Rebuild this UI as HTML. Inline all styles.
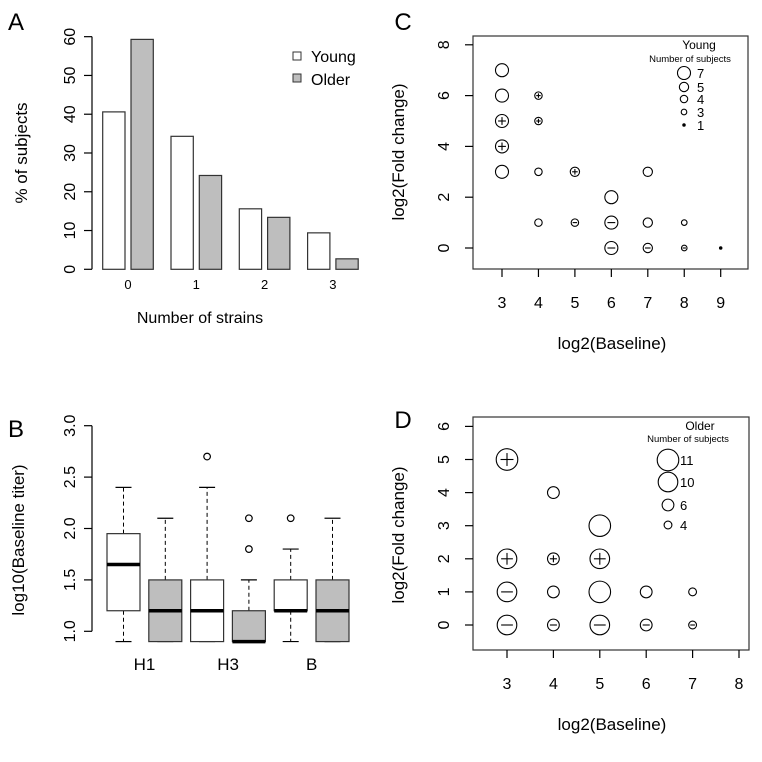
<!DOCTYPE html>
<html><head><meta charset="utf-8"><style>
html,body{margin:0;padding:0;background:#fff}
svg{display:block;font-family:"Liberation Sans",Arial,sans-serif}
</style></head><body>
<svg id="s" width="762" height="762" viewBox="0 0 762 762"></svg>
<script>
// Panel A data
const aCats=["0","1","2","3"];
const aYoung=[40.6,34.3,15.6,9.4];
const aOlder=[59.3,24.2,13.4,2.7];
const aTicks=[0,10,20,30,40,50,60];
// Panel B data
const bGroups=["H1","H3","B"];
const bStats=[[0.9,1.2,1.65,1.95,2.4],[0.9,0.9,1.2,1.5,2.1],[0.9,0.9,1.2,1.5,2.4],[0.9,0.9,0.9,1.2,1.5],[0.9,1.2,1.2,1.5,1.8],[0.9,0.9,1.2,1.5,2.1]];
const bOutliers=[[],[],[2.7],[1.8,2.1],[2.1],[]];
const bTicks=[1.0,1.5,2.0,2.5,3.0];
// Panel C data
const cX=[3,3,3,3,3,4,4,4,4,5,5,6,6,6,7,7,7,8,8,9];
const cY=[7,6,5,4,3,6,5,3,1,3,1,2,1,0,3,1,0,1,0,0];
const cN=[7,7,7,7,7,4,4,4,4,5,4,7,7,7,5,5,5,3,3,1];
const cS=["","","p","p","","p","p","","","p","m","","m","m","","","m","","m",""];
const cLegN=[7,5,4,3,1];
// Panel D data
const dX=[3,3,3,3,4,4,4,4,5,5,5,5,6,6,7,7];
const dY=[5,2,1,0,4,2,1,0,3,2,1,0,1,0,1,0];
const dN=[11,10,10,10,6,6,6,6,11,10,11,10,6,6,4,4];
const dS=["p","p","m","m","","p","","m","","p","","m","","m","","m"];
const dLegN=[11,10,6,4];

const s=document.getElementById('s');
const NS="http://www.w3.org/2000/svg";
function el(t,a,txt){const e=document.createElementNS(NS,t);for(const k in a)e.setAttribute(k,a[k]);if(txt!==undefined)e.textContent=txt;s.appendChild(e);return e;}
function line(x1,y1,x2,y2,n,extra){const e=el('line',Object.assign({x1,y1,x2,y2,stroke:'#000','stroke-width':1.2},extra||{}));

return e;}
function text(x,y,t,n,extra){const e=el('text',Object.assign({x,y,'font-size':13,'text-anchor':'middle'},extra||{}),t);

return e;}

// ---------- Panel A ----------
text(16,30,"A","panel-a-label",{'font-size':24});
const aY=v=>269.3-v*3.877;
const aX0=102.7, aStep=68.3, bw=22.3;
line(92,aY(0),92,aY(60),"a-y-axis");
aTicks.forEach(t=>{line(84,aY(t),92,aY(t),"a-y-tick");
text(75,aY(t),String(t),"a-y-tick-label",{transform:`rotate(-90 75 ${aY(t)})`,'font-size':16});});
aCats.forEach((c,i)=>{
 const x=aX0+i*aStep;
 let r=el('rect',{x,y:aY(aYoung[i]),width:bw,height:aY(0)-aY(aYoung[i]),fill:'#fff',stroke:'#333','stroke-width':1.2});
 
 
 r=el('rect',{x:x+bw+6,y:aY(aOlder[i]),width:bw,height:aY(0)-aY(aOlder[i]),fill:'#bebebe',stroke:'#333','stroke-width':1.2});
 
 
 text(x+bw+3,289,c,"a-x-tick-label",{'font-size':13});
});
text(200,323,"Number of strains","a-x-axis-title",{'font-size':16});
text(27,153,"% of subjects","a-y-axis-title",{transform:'rotate(-90 27 153)','font-size':17});
let lg=el('rect',{x:293,y:52,width:8,height:8,fill:'#fff',stroke:'#333'});

lg=el('rect',{x:293,y:74,width:8,height:8,fill:'#bebebe',stroke:'#333'});

text(311,62,"Young","legend-young",{'text-anchor':'start','font-size':16});
text(311,85,"Older","legend-older",{'text-anchor':'start','font-size':16});

// ---------- Panel B ----------
text(16,437,"B","panel-b-label",{'font-size':24});
const bY=v=>631.3-(v-1)*102.8;
line(92,bY(1),92,bY(3),"b-y-axis");
bTicks.forEach(t=>{line(84,bY(t),92,bY(t),"b-y-tick");
text(75,bY(t),t.toFixed(1),"b-y-tick-label",{transform:`rotate(-90 75 ${bY(t)})`,'font-size':16});});
bStats.forEach((st,i)=>{
 const x=107+i*41.8, w=33, cx=x+w/2, fill=i%2?'#bebebe':'#fff';
 line(cx,bY(st[3]),cx,bY(st[4]),"b-whisker-upper",{'stroke-dasharray':'4,3','stroke-width':1});
 line(cx,bY(st[1]),cx,bY(st[0]),"b-whisker-lower",{'stroke-dasharray':'4,3','stroke-width':1});
 line(cx-8,bY(st[4]),cx+8,bY(st[4]),"b-cap-upper");
 line(cx-8,bY(st[0]),cx+8,bY(st[0]),"b-cap-lower");
 const r=el('rect',{x,y:bY(st[3]),width:w,height:Math.max(bY(st[1])-bY(st[3]),0),fill,stroke:'#333','stroke-width':1.2});
 
 
 line(x,bY(st[2]),x+w,bY(st[2]),"b-median",{'stroke-width':3.5});
 bOutliers[i].forEach(o=>{const c=el('circle',{cx,cy:bY(o),r:3.3,fill:'none',stroke:'#000','stroke-width':1.2});
 
 });
});
bGroups.forEach((g,i)=>text(144.5+i*83.6,670,g,"b-x-tick-label",{'font-size':17}));
text(24,540,"log10(Baseline titer)","b-y-axis-title",{transform:'rotate(-90 24 540)','font-size':17});

// ---------- bubble helper ----------
function bubbles(px,py,xs,ys,ns,ss,k,tag){
 xs.forEach((xv,i)=>{
  const cx=px(xv),cy=py(ys[i]),r=Math.max(ns[i]*k,1.2);
  const c=el('circle',{cx,cy,r,fill:ns[i]<=1?'#000':'none',stroke:'#000','stroke-width':1.1});
  
  
  if(ss[i]){line(cx-r*0.6,cy,cx+r*0.6,cy,tag+'-point-mark',{'stroke-width':1.1});
   if(ss[i]==='p')line(cx,cy-r*0.6,cx,cy+r*0.6,tag+'-point-mark',{'stroke-width':1.1});}
 });
}

// ---------- Panel C ----------
text(403,30,"C","panel-c-label",{'font-size':24});
const cPx=v=>502+(v-3)*36.45, cPy=v=>248-v*25.4;
let bx=el('rect',{x:473,y:36,width:275,height:233,fill:'none',stroke:'#333','stroke-width':1.2});

for(let v=3;v<=9;v++){line(cPx(v),269,cPx(v),277,"c-x-tick");text(cPx(v),308,String(v),"c-x-tick-label",{'font-size':16});}
for(let v=0;v<=8;v+=2){line(465,cPy(v),473,cPy(v),"c-y-tick");text(449,cPy(v),String(v),"c-y-tick-label",{transform:`rotate(-90 449 ${cPy(v)})`,'font-size':16});}
bubbles(cPx,cPy,cX,cY,cN,cS,0.93,'c');
text(612,349,"log2(Baseline)","c-x-axis-title",{'font-size':17});
text(404,152,"log2(Fold change)","c-y-axis-title",{transform:'rotate(-90 404 152)','font-size':17});
text(699,49,"Young","c-legend-title",{'font-size':12});
text(690,62,"Number of subjects","c-legend-subtitle",{'font-size':9.5});
const cLy=[73,87,99,112,125];
cLegN.forEach((n,i)=>{const c=el('circle',{cx:684,cy:cLy[i],r:Math.max(n*0.93,1.2),fill:n<=1?'#000':'none',stroke:'#000','stroke-width':1.1});

text(697,cLy[i]+5,String(n),"c-legend-label",{'text-anchor':'start','font-size':13});});

// ---------- Panel D ----------
text(403,428,"D","panel-d-label",{'font-size':24});
const dPx=v=>507+(v-3)*46.4, dPy=v=>625-v*33.1;
bx=el('rect',{x:473,y:417,width:276,height:233,fill:'none',stroke:'#333','stroke-width':1.2});

for(let v=3;v<=8;v++){line(dPx(v),650,dPx(v),658,"d-x-tick");text(dPx(v),689,String(v),"d-x-tick-label",{'font-size':16});}
for(let v=0;v<=6;v++){line(465,dPy(v),473,dPy(v),"d-y-tick");text(449,dPy(v),String(v),"d-y-tick-label",{transform:`rotate(-90 449 ${dPy(v)})`,'font-size':16});}
bubbles(dPx,dPy,dX,dY,dN,dS,0.98,'d');
text(612,730,"log2(Baseline)","d-x-axis-title",{'font-size':17});
text(404,535,"log2(Fold change)","d-y-axis-title",{transform:'rotate(-90 404 535)','font-size':17});
text(700,430,"Older","d-legend-title",{'font-size':12});
text(688,442,"Number of subjects","d-legend-subtitle",{'font-size':9.5});
const dLy=[460,482,505,525];
dLegN.forEach((n,i)=>{const c=el('circle',{cx:668,cy:dLy[i],r:n*0.98,fill:'none',stroke:'#000','stroke-width':1.1});

text(680,dLy[i]+5,String(n),"d-legend-label",{'text-anchor':'start','font-size':13});});
</script>
</body></html>
